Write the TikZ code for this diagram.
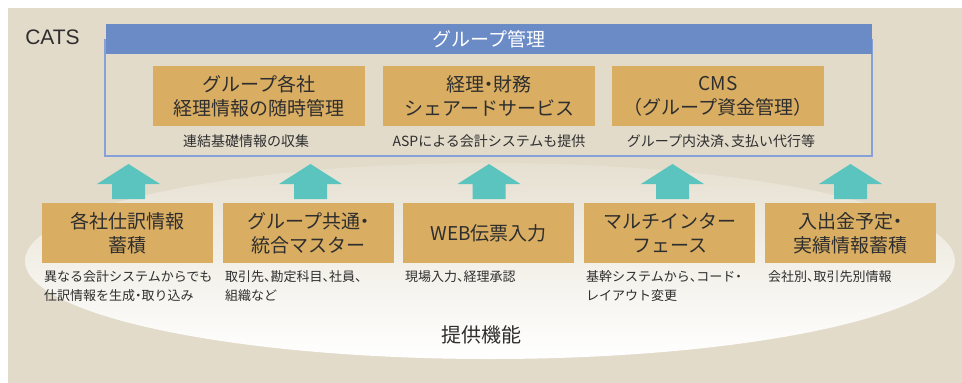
\documentclass[tikz,border=0pt]{standalone}
\usepackage{fontspec}
\usetikzlibrary{calc}
\setmainfont{Noto Sans CJK JP}
\newfontfamily\catsfont{Liberation Sans}
\newcommand\hw[1]{{\addfontfeature{RawFeature=+halt}#1}}
\definecolor{bg}{HTML}{E2DBCA}
\definecolor{elltop}{HTML}{E6E0D1}
\definecolor{hdrblue}{HTML}{6B8BC6}
\definecolor{outlblue}{HTML}{86A0D8}
\definecolor{boxor}{HTML}{D9AD62}
\definecolor{upteal}{HTML}{5BC4BE}
\definecolor{txt}{HTML}{2E2E2E}
\tikzset{
  obox/.style={fill=boxor, minimum height=60pt, inner sep=0pt, anchor=north west,
    align=center, text=txt, font=\fontsize{19}{24}\selectfont},
  topbox/.style={obox, minimum width=212pt},
  botbox/.style={obox, minimum width=171pt},
  topcap/.style={text=txt, inner sep=0pt, font=\fontsize{14}{18}\selectfont},
  botcap/.style={text=txt, inner sep=0pt, anchor=north west, align=left,
    font=\fontsize{13}{19}\selectfont},
  uparrowshape/.style={fill=upteal}
}
\begin{document}
\begin{tikzpicture}[x=1pt,y=-1pt]
\useasboundingbox (0,0) rectangle (962,383);
\fill[white] (0,0) rectangle (962,383);
\fill[bg] (8,8) rectangle (962,383);
% provided-functions ellipse
\shade[top color=elltop, bottom color=white] (490,261) ellipse [x radius=465, y radius=98];
% group management frame
\draw[outlblue, line width=1.5pt, fill=bg] (105,40) rectangle (872,156);
\node[fill=hdrblue, minimum width=766pt, minimum height=30pt, inner sep=0pt,
  anchor=north west, text=white, font=\fontsize{19}{24}\selectfont] (hdr) at (106,24) {グループ管理};
\node[text=txt, font=\catsfont\fontsize{21}{24}\selectfont, inner sep=0pt] (cats) at (52.5,37) {CATS};
% top boxes
\node[topbox] (t1) at (153,66) {グループ各社\\経理情報の随時管理};
\node[topbox] (t2) at (383,66) {経理\hw{・}財務\\シェアードサービス};
\node[topbox] (t3) at (612,66) {CMS\\（グループ資金管理）};
\node[topcap] (tc1) at (246,141) {連結基礎情報の収集};
\node[topcap] (tc2) at (489,141) {ASPによる会計システムも提供};
\node[topcap] (tc3) at (721,141) {グループ内決済\hw{、}支払い代行等};
% arrows
\foreach \c/\n in {128.5/1,310.5/2,489/3,672.5/4,850.5/5}{
  \coordinate (ar\n) at (\c,199);
  \fill[uparrowshape] ($(ar\n)+(-16.5,0)$) -- ++(0,-15) -- ++(-15,0) -- ($(ar\n)+(0,-35)$)
    -- ($(ar\n)+(31.5,-15)$) -- ++(-15,0) -- ($(ar\n)+(16.5,0)$) -- cycle;
}
% bottom boxes
\node[botbox] (b1) at (42,203) {各社仕訳情報\\蓄積};
\node[botbox] (b2) at (223,203) {グループ共通\hw{・}\\統合マスター};
\node[botbox] (b3) at (403,203) {WEB伝票入力};
\node[botbox] (b4) at (584,203) {マルチインター\\フェース};
\node[botbox] (b5) at (765,203) {入出金予定\hw{・}\\実績情報蓄積};
\node[botcap] (bc1) at (44,270) {異なる会計システムからでも\\仕訳情報を生成\hw{・}取り込み};
\node[botcap] (bc2) at (225,270) {取引先\hw{、}勘定科目\hw{、}社員\hw{、}\\組織など};
\node[botcap] (bc3) at (405,270) {現場入力\hw{、}経理承認};
\node[botcap] (bc4) at (586,270) {基幹システムから\hw{、}コード\hw{・}\\レイアウト変更};
\node[botcap] (bc5) at (768,270) {会社別\hw{、}取引先別情報};
\node[text=txt, inner sep=0pt, font=\fontsize{20}{24}\selectfont] (lbl) at (481,335) {提供機能};
\end{tikzpicture}
\end{document}
